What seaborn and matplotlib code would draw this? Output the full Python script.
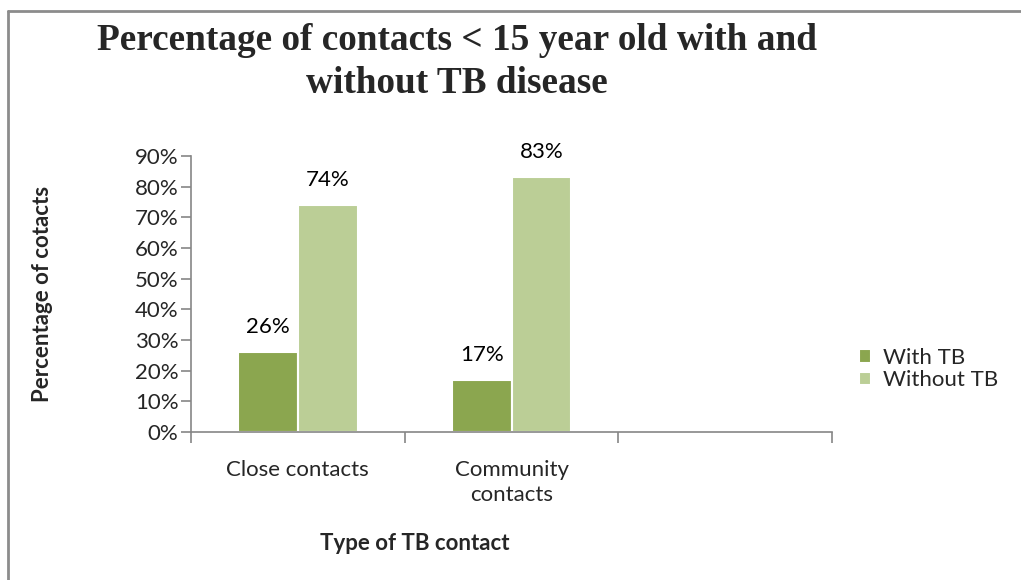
import matplotlib
matplotlib.use("Agg")
import matplotlib.pyplot as plt
from matplotlib.lines import Line2D
from matplotlib.ticker import FixedLocator, FixedFormatter, NullFormatter
import pandas as pd
import seaborn as sns

# ---- data -------------------------------------------------------------
categories = ["Close contacts", "Community contacts"]
category_labels = ["Close contacts", "Community\ncontacts"]
series_names = ["With TB", "Without TB"]
with_tb = [0.26, 0.17]
without_tb = [0.74, 0.83]
y_ticks = [0.0, 0.1, 0.2, 0.3, 0.4, 0.5, 0.6, 0.7, 0.8, 0.9]
y_tick_labels = ["0%", "10%", "20%", "30%", "40%", "50%", "60%", "70%", "80%", "90%"]
title_lines = ["Percentage of contacts < 15 year old with and", "without TB disease"]
x_title = "Type of TB contact"
y_title = "Percentage of cotacts"
palette = {"With TB": "#8BA64F", "Without TB": "#BBCE96"}

df = pd.DataFrame({
    "contact": categories * 2,
    "group": [series_names[0]] * len(categories) + [series_names[1]] * len(categories),
    "share": with_tb + without_tb,
})

# ---- style ------------------------------------------------------------
sns.set_theme(style="white")
plt.rcParams["font.family"] = ["Lato", "DejaVu Sans"]
axis_grey = "#868686"
label_size = 16

W, H = 1021, 580
fig = plt.figure(figsize=(W / 100, H / 100), dpi=100)
ax = fig.add_axes([191 / W, 1 - 432 / H, (832 - 191) / W, (432 - 156) / H])

sns.barplot(
    data=df, x="contact", y="share", hue="group",
    order=categories, hue_order=series_names, palette=palette,
    width=0.56, gap=0, edgecolor="white", linewidth=1.5,
    saturation=1, ax=ax,
)

# value labels above bars
for container in ax.containers:
    ax.bar_label(container, fmt="{:.0%}", padding=11, fontsize=label_size, color="black")

# ---- axes -------------------------------------------------------------
ax.set_xlim(-0.5, 2.5)
ax.set_ylim(0, 0.9)
ax.set_yticks(y_ticks)
ax.set_yticklabels(y_tick_labels)
ax.tick_params(axis="y", which="major", direction="out", length=7, width=1.2,
               color=axis_grey, labelsize=label_size, pad=2, left=True)

ax.xaxis.set_major_locator(FixedLocator([-0.5, 0.5, 1.5, 2.5]))
ax.xaxis.set_major_formatter(NullFormatter())
ax.xaxis.set_minor_locator(FixedLocator(list(range(len(categories)))))
ax.xaxis.set_minor_formatter(FixedFormatter(category_labels))
ax.tick_params(axis="x", which="major", direction="out", length=8, width=1.2,
               color=axis_grey, bottom=True)
ax.tick_params(axis="x", which="minor", length=0, labelsize=label_size, pad=20, bottom=True)
for lbl in ax.xaxis.get_minorticklabels():
    lbl.set_linespacing(1.35)

for side in ("top", "right"):
    ax.spines[side].set_visible(False)
for side in ("left", "bottom"):
    ax.spines[side].set_color(axis_grey)
    ax.spines[side].set_linewidth(1.2)

ax.set_xlabel(x_title, fontsize=label_size, fontweight="bold")
ax.set_ylabel(y_title, fontsize=label_size, fontweight="bold")
ax.xaxis.set_label_coords((415 - 191) / (832 - 191), (432 - 544) / (432 - 156))
ax.xaxis.label.set_va("center")
ax.yaxis.set_label_coords((43 - 191) / (832 - 191), 0.5)
ax.yaxis.label.set_va("center")

handles, labels = ax.get_legend_handles_labels()
ax.legend(handles, labels, loc="center left", bbox_to_anchor=(839 / W, 1 - 369 / H),
          bbox_transform=fig.transFigure, frameon=False, fontsize=label_size,
          handlelength=0.55, handleheight=0.55, handletextpad=0.55, labelspacing=0.12)

# ---- title ------------------------------------------------------------
for line, baseline in zip(title_lines, (50, 93)):
    fig.text(457 / W, 1 - baseline / H, line, ha="center", va="baseline",
             fontsize=26.8, fontweight="bold", family="Liberation Serif")

# chart-area frame (left and top edges)
frame_kw = dict(color="#8C8C8C", linewidth=2.0, transform=fig.transFigure)
fig.add_artist(Line2D([7.5 / W, 7.5 / W], [0, 1 - 11 / H], **frame_kw))
fig.add_artist(Line2D([7.5 / W, 1], [1 - 11 / H, 1 - 11 / H], **frame_kw))

fig.savefig("out.png", dpi=100, facecolor="white")
